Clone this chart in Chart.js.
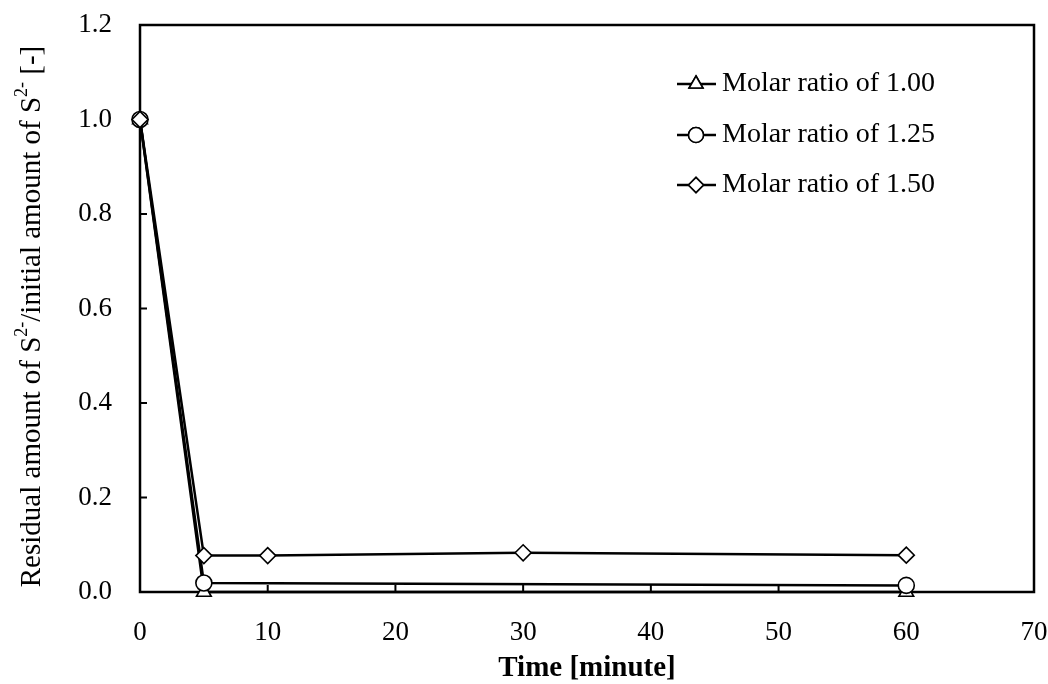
<!DOCTYPE html>
<html>
<head>
<meta charset="utf-8">
<script src="https://cdn.jsdelivr.net/npm/chart.js@4/dist/chart.umd.min.js"></script>
<style>
  html, body { margin: 0; padding: 0; background: #fff; }
  #wrap { width: 1048px; height: 684px; }
</style>
</head>
<body>
<div id="wrap"><canvas id="c"></canvas></div>
<script>
// dados
const time_100 = [0, 5, 60];
const ratio_100 = [1.0, 0.0, 0.0];
const time_125 = [0, 5, 60];
const ratio_125 = [1.0, 0.019, 0.014];
const time_150 = [0, 5, 10, 30, 60];
const ratio_150 = [1.0, 0.077, 0.077, 0.083, 0.078];
const labels = ['Molar ratio of 1.00', 'Molar ratio of 1.25', 'Molar ratio of 1.50'];
const xTicks = [0, 10, 20, 30, 40, 50, 60, 70];
const yTicks = [0, 0.2, 0.4, 0.6, 0.8, 1.0, 1.2];

const SERIF = '"Liberation Serif", "Times New Roman", serif';
const pts = (xs, ys) => xs.map((x, i) => ({ x, y: ys[i] }));

function ds(label, data, style, r, order) {
  return {
    label, data, pointStyle: style, order,
    borderColor: '#000', borderWidth: 2.5,
    pointRadius: r, pointHoverRadius: r,
    pointBackgroundColor: '#fff', pointBorderColor: '#000', pointBorderWidth: 1.6,
    tension: 0, clip: false,
  };
}

// moldura + ticks internos
const frame = {
  id: 'frame',
  beforeDatasetsDraw(chart) {
    const { ctx, chartArea: a, scales: { x, y } } = chart;
    ctx.save();
    ctx.strokeStyle = '#000';
    ctx.lineWidth = 2.5;
    ctx.strokeRect(a.left, a.top, a.right - a.left, a.bottom - a.top);
    ctx.lineWidth = 2;
    ctx.beginPath();
    xTicks.slice(1, -1).forEach(v => {
      const px = x.getPixelForValue(v);
      ctx.moveTo(px, a.bottom); ctx.lineTo(px, a.bottom - 7);
    });
    yTicks.slice(1, -1).forEach(v => {
      const py = y.getPixelForValue(v);
      ctx.moveTo(a.left, py); ctx.lineTo(a.left + 7, py);
    });
    ctx.stroke();
    ctx.restore();
  },
};

// legenda com linha + marcador
const legendBox = {
  id: 'legendBox',
  afterDraw(chart) {
    const { ctx } = chart;
    ctx.save();
    const rows = [84, 135, 185];
    chart.data.datasets.forEach((d, i) => {
      const yy = rows[i];
      ctx.strokeStyle = '#000';
      ctx.lineWidth = 2.5;
      ctx.beginPath(); ctx.moveTo(677, yy); ctx.lineTo(716, yy); ctx.stroke();
      ctx.fillStyle = '#fff';
      ctx.lineWidth = 1.6;
      Chart.helpers.drawPoint(ctx, { pointStyle: d.pointStyle, radius: d.pointRadius - 0.5, rotation: 0, borderWidth: 1.6 }, 696, yy);
      ctx.fill(); ctx.stroke();
      ctx.fillStyle = '#000';
      ctx.font = '28px ' + SERIF;
      ctx.textBaseline = 'middle';
      ctx.textAlign = 'left';
      ctx.fillText(d.label, 722, yy);
    });
    ctx.restore();
  },
};

// título do eixo y com sobrescritos
const yTitle = {
  id: 'yTitle',
  afterDraw(chart) {
    const { ctx, chartArea: a } = chart;
    const parts = [
      ['Residual amount of S', false], ['2-', true],
      ['/initial amount of S', false], ['2-', true], [' [-]', false],
    ];
    const big = '29px ' + SERIF, small = '18px ' + SERIF;
    ctx.save();
    let w = 0;
    parts.forEach(([t, s]) => { ctx.font = s ? small : big; w += ctx.measureText(t).width; });
    ctx.translate(32, (a.top + a.bottom) / 2 + 8);
    ctx.rotate(-Math.PI / 2);
    ctx.fillStyle = '#000';
    ctx.textBaseline = 'middle';
    let cx = -w / 2;
    parts.forEach(([t, s]) => {
      ctx.font = s ? small : big;
      ctx.fillText(t, cx, s ? -10 : 0);
      cx += ctx.measureText(t).width;
    });
    ctx.restore();
  },
};

new Chart(document.getElementById('c'), {
  type: 'line',
  data: {
    datasets: [
      ds(labels[0], pts(time_100, ratio_100), 'triangle', 8.5, 2),
      ds(labels[1], pts(time_125, ratio_125), 'circle', 8, 1),
      ds(labels[2], pts(time_150, ratio_150), 'rectRot', 8, 0),
    ],
  },
  options: {
    responsive: true, maintainAspectRatio: false,
    animation: false,
    layout: { padding: { top: 25, right: 14, left: 0, bottom: 0 } },
    plugins: { legend: { display: false }, tooltip: { enabled: false } },
    scales: {
      x: {
        type: 'linear', min: 0, max: 70,
        afterBuildTicks: s => { s.ticks = xTicks.map(v => ({ value: v })); },
        afterFit: s => { s.height = 92; s.paddingLeft = 0; s.paddingRight = 0; },
        grid: { display: false },
        border: { display: false },
        ticks: { color: '#000', font: { family: SERIF, size: 27 }, padding: 17, maxRotation: 0 },
        title: { display: true, text: 'Time [minute]', color: '#000', font: { family: SERIF, size: 29, weight: 'bold', lineHeight: 1.1 }, padding: { top: 0, bottom: 0 } },
      },
      y: {
        type: 'linear', min: 0, max: 1.2,
        afterBuildTicks: s => { s.ticks = yTicks.map(v => ({ value: v })); },
        afterFit: s => { s.width = 140; s.paddingTop = 0; s.paddingBottom = 0; },
        grid: { display: false },
        border: { display: false },
        ticks: { color: '#000', font: { family: SERIF, size: 27 }, padding: 20, callback: v => Number(v).toFixed(1) },
      },
    },
  },
  plugins: [frame, legendBox, yTitle],
});
</script>
</body>
</html>
